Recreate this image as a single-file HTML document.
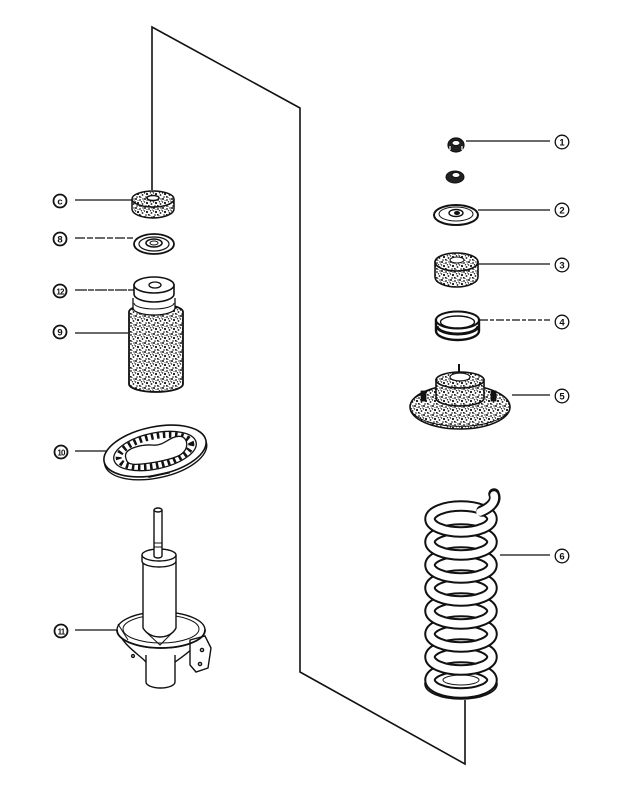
<!DOCTYPE html>
<html><head><meta charset="utf-8"><style>
html,body{margin:0;padding:0;background:#fff;}
svg{display:block;}
text{font-family:"Liberation Sans",sans-serif;font-weight:bold;}
</style></head><body>
<svg width="631" height="800" viewBox="0 0 631 800" xmlns="http://www.w3.org/2000/svg">
<defs>
<pattern id="st" width="9" height="9" patternUnits="userSpaceOnUse">
<rect width="9" height="9" fill="#fff"/>
<g fill="#111">
<circle cx="1" cy="1" r="1"/><circle cx="5" cy="2" r="0.9"/><circle cx="3" cy="5" r="1.1"/><circle cx="7.5" cy="6" r="0.9"/><circle cx="2" cy="8" r="0.8"/><circle cx="6.5" cy="3.8" r="0.7"/><circle cx="8" cy="1" r="0.7"/><circle cx="4.8" cy="7.8" r="0.9"/><circle cx="0.5" cy="4" r="0.7"/><circle cx="3" cy="2.5" r="0.5"/><circle cx="6" cy="8.5" r="0.5"/><circle cx="8.5" cy="3" r="0.5"/>
</g>
</pattern>
</defs>

<!-- main frame line -->
<polyline points="152,190 152,27 300,108 300,672 465,764 465,700" fill="none" stroke="#111" stroke-width="1.6"/>

<g stroke="#111" stroke-width="1.2" fill="none">
<line x1="75" y1="200" x2="133" y2="200"/>
<line x1="75" y1="238" x2="134" y2="238" stroke-dasharray="10 2 6 2"/>
<line x1="75" y1="290" x2="135" y2="290" stroke-dasharray="12 1 6 1"/>
<line x1="75" y1="333" x2="128" y2="333"/>
<line x1="75" y1="451" x2="106" y2="451"/>
<line x1="75" y1="630" x2="118" y2="630"/>
<line x1="466" y1="141" x2="550" y2="141"/>
<line x1="478" y1="210" x2="550" y2="210"/>
<line x1="478" y1="264" x2="550" y2="264"/>
<line x1="480" y1="320" x2="550" y2="320" stroke-dasharray="8 2 4 2"/>
<line x1="512" y1="395" x2="550" y2="395"/>
<line x1="500" y1="555" x2="550" y2="555"/>
</g>

<!-- labels -->
<g stroke="#111" fill="#fff">
<g stroke-width="1.8">
<circle cx="60" cy="201" r="6.5"/><circle cx="60" cy="239" r="6.5"/><circle cx="60" cy="291" r="6.5"/><circle cx="60" cy="332" r="6.5"/><circle cx="61" cy="452" r="6.5"/><circle cx="61" cy="631" r="6.5"/>
</g>
<g stroke-width="1.3">
<circle cx="562" cy="142" r="6.8"/><circle cx="562" cy="210" r="6.8"/><circle cx="562" cy="265" r="6.8"/><circle cx="562" cy="322" r="6.8"/><circle cx="562" cy="396" r="6.8"/><circle cx="562" cy="556" r="6.8"/>
</g>
</g>
<g font-size="9.5" text-anchor="middle" fill="#111">
<text x="60" y="204.5">c</text><text x="60" y="242.5">8</text><text x="60" y="294.5" font-size="8" letter-spacing="-0.8">12</text><text x="60" y="335.5">9</text><text x="61" y="455.5" font-size="8" letter-spacing="-0.8">10</text><text x="61" y="634.5" font-size="8" letter-spacing="-0.8">11</text>
<text x="562" y="145.5" font-weight="normal">1</text><text x="562" y="213.5" font-weight="normal">2</text><text x="562" y="268.5" font-weight="normal">3</text><text x="562" y="325.5" font-weight="normal">4</text><text x="562" y="399.5" font-weight="normal">5</text><text x="562" y="559.5" font-weight="normal">6</text>
</g>

<!-- part c -->
<g stroke="#111" stroke-width="1.5">
<path d="M132,200 L132,209 A21,9 0 0 0 174,209 L174,200 Z" fill="url(#st)"/>
<ellipse cx="153" cy="199" rx="21" ry="8" fill="url(#st)"/>
<ellipse cx="153" cy="198" rx="6" ry="2.5" fill="#fff"/>
</g>

<!-- part 8 washer -->
<g stroke="#111" fill="#fff">
<ellipse cx="154" cy="244" rx="20" ry="10" stroke-width="1.8"/>
<ellipse cx="154" cy="244" rx="15" ry="7" stroke-width="1.2"/>
<ellipse cx="154" cy="243" rx="8" ry="4" stroke-width="1.6"/>
<ellipse cx="154" cy="243" rx="4" ry="2" stroke-width="1"/>
</g>

<!-- part 9 boot -->
<g stroke="#111" stroke-width="1.8">
<path d="M129,312 L129,384 A27,8 0 0 0 183,384 L183,312 A27,8 0 0 0 129,312 Z" fill="url(#st)"/>
<path d="M133,298 L133,308 A21,7 0 0 0 175,308 L175,298" fill="#fff" stroke-width="1.3"/>
<path d="M134,303 A20,6 0 0 0 174,303" fill="none" stroke-width="1"/>
</g>
<!-- part 12 cap -->
<g stroke="#111" stroke-width="1.6" fill="#fff">
<path d="M134,285 L134,294 A20,8 0 0 0 174,294 L174,285 Z"/>
<ellipse cx="154" cy="285" rx="20" ry="8"/>
<ellipse cx="155" cy="285" rx="6" ry="3" stroke-width="1.3"/>
</g>

<!-- part 10 spring seat -->
<g transform="translate(155,451) rotate(-12)" stroke="#111" fill="#fff">
<ellipse cx="0" cy="3" rx="52" ry="24" stroke-width="1.4"/>
<ellipse cx="0" cy="0" rx="52" ry="24" stroke-width="1.6"/>
<ellipse cx="0" cy="0" rx="42" ry="18" stroke-width="1.3"/>
<ellipse cx="0" cy="0" rx="37" ry="14.5" stroke-width="6" stroke-dasharray="2.5 3.5" fill="none"/>
<path d="M-30,0 C-30,-10 -10,-9 0,-6 C10,-3 18,-12 28,-9 C36,-6 34,8 20,10 C8,12 -10,11 -22,9 C-30,7 -30,4 -30,0 Z" stroke-width="1.3"/>
<line x1="-12" y1="24" x2="10" y2="24" stroke-width="2"/>
</g>

<!-- part 11 strut -->
<g stroke="#111" stroke-width="1.4" fill="#fff">
<path d="M118,630 C122,645 140,655 146,662 L175,662 C185,655 200,645 205,630 Z"/>
<ellipse cx="161" cy="630" rx="44" ry="18"/>
<ellipse cx="161" cy="629" rx="38" ry="14" stroke-width="1"/>
<path d="M146,655 L146,682 A14.5,6 0 0 0 175,682 L175,655"/>
<path d="M190,640 L205,636 L211,648 L208,668 L196,672 L190,665 Z"/>
<circle cx="202" cy="650" r="1.6"/><circle cx="200" cy="664" r="1.6"/>
<circle cx="133" cy="656" r="1.4"/>
<path d="M143,562 L143,628 C150,640 170,640 176,628 L176,562 Z"/>
<path d="M146,632 L160,645 L173,632" fill="none" stroke-width="1"/>
<path d="M117,630 A44,18 0 0 0 205,630" fill="none" stroke-width="1.8"/>
<path d="M118,624 L128,640" fill="none" stroke-width="1"/>
<path d="M142,555 L142,561 A17,6 0 0 0 176,561 L176,555 Z"/>
<ellipse cx="159" cy="555" rx="17" ry="6"/>
<path d="M154,510 L154,556 A4,2 0 0 0 162,556 L162,510"/>
<ellipse cx="158" cy="510" rx="4" ry="2"/>
<line x1="154" y1="543" x2="162" y2="543" stroke-width="1"/>
<line x1="154" y1="547" x2="162" y2="547" stroke-width="1"/>
</g>

<!-- part 1 nut -->
<g stroke="#111">
<ellipse cx="456" cy="145" rx="8" ry="7" fill="#222" stroke-width="1.2"/>
<ellipse cx="456" cy="143" rx="4" ry="2.5" fill="#fff" stroke-width="1"/>
<line x1="450" y1="146" x2="450" y2="150" stroke="#fff" stroke-width="1.2"/>
<line x1="462" y1="146" x2="462" y2="150" stroke="#fff" stroke-width="1.2"/>
</g>
<!-- small washer -->
<g stroke="#111">
<ellipse cx="455" cy="177" rx="9" ry="6" fill="#222"/>
<ellipse cx="456" cy="175" rx="4" ry="2.5" fill="#fff" stroke-width="1"/>
</g>

<!-- part 2 plate -->
<g stroke="#111" fill="#fff">
<ellipse cx="456" cy="215" rx="22" ry="10" stroke-width="2"/>
<ellipse cx="456" cy="214" rx="17" ry="7" stroke-width="1"/>
<ellipse cx="456" cy="213" rx="7" ry="3.5" stroke-width="1.4"/>
<ellipse cx="457" cy="213" rx="2.5" ry="1.5" fill="#111"/>
</g>

<!-- part 3 rubber -->
<g stroke="#111" stroke-width="1.6">
<path d="M435,262 L435,277 A21.5,10 0 0 0 478,277 L478,262 Z" fill="url(#st)"/>
<ellipse cx="456.5" cy="262" rx="21.5" ry="9" fill="url(#st)"/>
<ellipse cx="457" cy="260" rx="7" ry="3" fill="#fff" stroke-width="1"/>
</g>

<!-- part 4 ring -->
<g stroke="#111" fill="#fff">
<path d="M436,320 L436,331 A21.5,9 0 0 0 479,331 L479,320 Z" stroke-width="2.4"/>
<path d="M437,326 A20.5,8 0 0 0 478,326" fill="none" stroke-width="3"/>
<ellipse cx="457.5" cy="320" rx="21.5" ry="8.5" stroke-width="2"/>
<ellipse cx="457.5" cy="322" rx="17" ry="6" stroke-width="1.4"/>
</g>

<!-- part 5 mount -->
<g stroke="#111" stroke-width="1.6">
<ellipse cx="460" cy="407" rx="50" ry="22" fill="url(#st)"/>
<path d="M412,400 C425,390 438,388 440,385" fill="none" stroke-width="1"/>
<path d="M436,380 L436,398 A24,8 0 0 0 484,398 L484,380 Z" fill="url(#st)"/>
<ellipse cx="460" cy="380" rx="24" ry="8" fill="url(#st)"/>
<ellipse cx="460" cy="377" rx="10" ry="4" fill="#fff" stroke-width="1.2"/>
<line x1="459" y1="364" x2="459" y2="372" stroke-width="2"/>
<rect x="421" y="391" width="5" height="10" fill="#111" stroke-width="0.8"/>
<rect x="491" y="391" width="5" height="10" fill="#111" stroke-width="0.8"/>
<path d="M412,412 A50,20 0 0 0 508,412" fill="none" stroke-width="1"/>
</g>

<!-- part 6 spring -->
<g fill="none">
<ellipse cx="461" cy="684" rx="36" ry="15" stroke="#111" stroke-width="1.6" fill="#fff"/>
<ellipse cx="461" cy="680" rx="31" ry="13" stroke="#111" stroke-width="11.5"/>
<ellipse cx="461" cy="680" rx="31" ry="13" stroke="#fff" stroke-width="7.5"/>
<ellipse cx="461" cy="680" rx="18" ry="5" stroke="#111" stroke-width="1" fill="#fff"/>
<ellipse cx="461" cy="657" rx="31" ry="13" stroke="#111" stroke-width="11.5"/>
<ellipse cx="461" cy="657" rx="31" ry="13" stroke="#fff" stroke-width="7.5"/>
<ellipse cx="461" cy="634" rx="31" ry="13" stroke="#111" stroke-width="11.5"/>
<ellipse cx="461" cy="634" rx="31" ry="13" stroke="#fff" stroke-width="7.5"/>
<ellipse cx="461" cy="611" rx="31" ry="13" stroke="#111" stroke-width="11.5"/>
<ellipse cx="461" cy="611" rx="31" ry="13" stroke="#fff" stroke-width="7.5"/>
<ellipse cx="461" cy="588" rx="31" ry="13" stroke="#111" stroke-width="11.5"/>
<ellipse cx="461" cy="588" rx="31" ry="13" stroke="#fff" stroke-width="7.5"/>
<ellipse cx="461" cy="565" rx="31" ry="13" stroke="#111" stroke-width="11.5"/>
<ellipse cx="461" cy="565" rx="31" ry="13" stroke="#fff" stroke-width="7.5"/>
<ellipse cx="461" cy="542" rx="31" ry="13" stroke="#111" stroke-width="11.5"/>
<ellipse cx="461" cy="542" rx="31" ry="13" stroke="#fff" stroke-width="7.5"/>
<ellipse cx="461" cy="519" rx="31" ry="13" stroke="#111" stroke-width="11.5"/>
<ellipse cx="461" cy="519" rx="31" ry="13" stroke="#fff" stroke-width="7.5"/>
<!-- hook -->
<path d="M482,511 C491,507 497,501 494,494" stroke="#111" stroke-width="11.5" stroke-linecap="round"/>
<path d="M480,512 C490,508 496,502 494,495" stroke="#fff" stroke-width="7.5" stroke-linecap="round"/>
</g>
</svg>
</body></html>
